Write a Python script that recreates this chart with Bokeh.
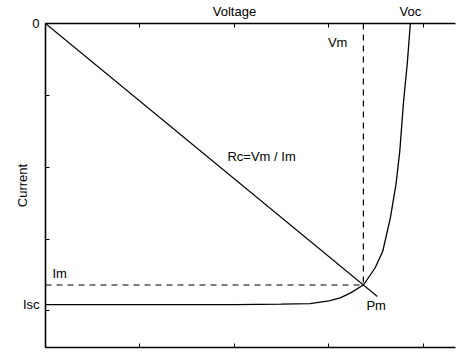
from bokeh.plotting import figure
from bokeh.models import Range1d, LinearAxis, FixedTicker
from bokeh.models import Label
from bokeh.embed import file_html
from bokeh.resources import INLINE

# I-V curve (voltage, current magnitude; current axis points downward)
voltage = [0.0, 1.0, 2.0, 2.49, 2.80, 3.00, 3.12, 3.23, 3.365, 3.49, 3.57, 3.65, 3.71, 3.75, 3.79, 3.83, 3.862]
current = [3.914, 3.914, 3.913, 3.907, 3.90, 3.86, 3.82, 3.75, 3.64, 3.40, 3.17, 2.71, 2.24, 1.78, 1.09, 0.55, 0.0]

vm = 3.365
im = 3.64
isc = 3.914
voc = 3.862

x_ticks = [0, 1, 2, 3, 4]
y_ticks = [0, 1, 2, 3, 4]
voltage_title_pos = 2.0

FONT = "Liberation Sans"
FS = "13px"

p = figure(width=456, height=354, x_range=Range1d(0, 4.34), y_range=Range1d(4.51, 0),
           output_backend="svg", toolbar_location=None,
           x_axis_location=None, y_axis_location=None,
           min_border_left=45, min_border_top=21, min_border_bottom=7, min_border_right=1)
p.outline_line_color = None
p.grid.visible = False
p.background_fill_color = "white"
p.border_fill_color = "white"


def style(ax):
    ax.axis_line_color = "black"
    ax.axis_line_width = 1.6
    ax.major_tick_in = 4
    ax.major_tick_out = 0
    ax.minor_tick_line_color = None
    ax.major_tick_line_color = "black"
    ax.major_label_text_font = FONT
    ax.major_label_text_font_size = FS
    ax.major_label_text_color = "black"
    ax.axis_label_text_font = FONT
    ax.axis_label_text_font_size = FS
    ax.axis_label_text_font_style = "normal"
    ax.axis_label_text_color = "black"


# left axis: ticks, "0" and "Isc" labels, "Current" title
left = LinearAxis(ticker=FixedTicker(ticks=y_ticks + [isc]), axis_label="Current")
style(left)
left.major_label_overrides = {1: "", 2: "", 3: "", 4: "", 0: "0", isc: "Isc"}
left.major_label_standoff = 6
left.axis_label_standoff = -10
p.add_layout(left, "left")

# top axis: tick marks only
top = LinearAxis(ticker=FixedTicker(ticks=x_ticks))
style(top)
top.major_label_overrides = {t: "" for t in x_ticks}
top.major_label_text_font_size = "0px"
top.major_label_standoff = 0
p.add_layout(top, "above")

# top text row: "Voltage" and "Voc"
top2 = LinearAxis(ticker=FixedTicker(ticks=[voltage_title_pos, voc]))
style(top2)
top2.axis_line_color = None
top2.major_tick_line_color = None
top2.major_tick_in = 0
top2.major_label_standoff = 5
top2.major_label_overrides = {voltage_title_pos: "Voltage", voc: "Voc"}
p.add_layout(top2, "above")

bottom = LinearAxis(ticker=FixedTicker(ticks=x_ticks))
style(bottom)
bottom.major_label_overrides = {t: "" for t in x_ticks}
bottom.major_label_text_font_size = "0px"
bottom.major_label_standoff = 0
p.add_layout(bottom, "below")

# I-V curve
p.line(voltage, current, line_color="black", line_width=1.3)

# load line Rc = Vm / Im, slightly extended past Pm
ext = 1.044
p.line([0, vm * ext], [0, im * ext], line_color="black", line_width=1.1)

# dashed guides
p.line([vm, vm], [0, im], line_color="black", line_width=1.2, line_dash="6 5")
p.line([0, vm], [im, im], line_color="black", line_width=1.2, line_dash="6 5")


def lab(x, y, text, xo=0, yo=0, align="left", base="middle"):
    p.add_layout(Label(x=x, y=y, text=text, x_offset=xo, y_offset=yo,
                       text_align=align, text_baseline=base,
                       text_font=FONT, text_font_size=FS, text_color="black"))


lab(vm, 0, "Vm", xo=-16, yo=-19, align="right")
lab(vm, im, "Pm", xo=3, yo=-21, align="left")
lab(0, im, "Im", xo=7, yo=11, align="left")
lab(1.926, 1.853, "Rc=Vm / Im", align="left")

open("out.html", "w").write(file_html(p, INLINE))
